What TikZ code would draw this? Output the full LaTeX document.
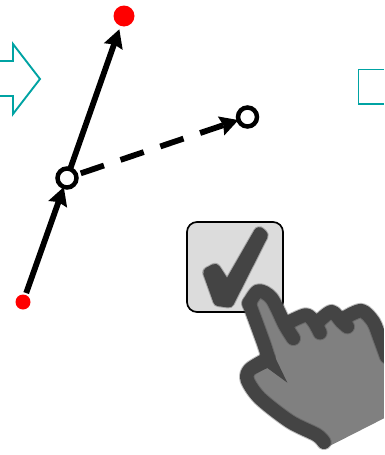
\documentclass[tikz,border=0pt]{standalone}
\usetikzlibrary{arrows.meta}
\definecolor{tealline}{HTML}{00A3A3}
\definecolor{handdark}{HTML}{444444}
\definecolor{handgray}{HTML}{808080}
\definecolor{boxgray}{HTML}{DCDCDC}
\tikzset{
  redpt/.style={circle,fill=red,inner sep=0pt,outer sep=0pt},
  openpt/.style={circle,draw=black,line width=4.5pt,fill=white,inner sep=0pt,outer sep=0pt,minimum size=19pt},
  conn/.style={line width=5.8pt,-{Stealth[length=18pt,width=19pt,inset=2pt]}},
  dashconn/.style={conn,dash pattern=on 24.5pt off 17.5pt},
  tealshape/.style={draw=tealline,line width=1.9pt,line join=miter},
  checkbox/.style={draw=black,line width=1.7pt,fill=boxgray,rounded corners=10pt,inner sep=0pt,outer sep=0pt,minimum width=96pt,minimum height=90pt},
  handline/.style={handdark,line join=round,line cap=round},
}
\begin{document}
\begin{tikzpicture}[x=1pt,y=-1pt]
\useasboundingbox (0,0) rectangle (384,455);
% teal shapes
\draw[tealshape] (-3,61) -- (13,61) -- (13,44) -- (40,79) -- (13,114) -- (13,96) -- (-3,96);
\draw[tealshape] (387,69.5) -- (358.5,69.5) -- (358.5,104) -- (387,104);
% points
\node[redpt,minimum size=21pt] (top) at (124,16) {};
\node[redpt,minimum size=15pt] (bot) at (23,302) {};
\node[openpt] (mid) at (67,178) {};
\node[openpt] (end) at (247.5,117) {};
% connectors
\draw[conn,shorten <=2pt,shorten >=0pt] (bot) -- (mid);
\draw[conn,shorten >=3.5pt] (mid) -- (top);
\draw[dashconn,shorten <=5pt,shorten >=0pt] (mid) -- (end);
% check box
\node[checkbox] (box) at (235,267) {};
% tick and hand, in zoomed coordinates
\begin{scope}[shift={(170,210)},x=0.3333pt,y=-0.3333pt]
  \foreach \w/\o in {13/0.35,11/1}{
    \draw[draw=handdark,fill=handdark,line width=\w pt,line join=round,opacity=\o]
      (116,188) -- (146,272) -- (176,276) -- (277,76) -- (268,68) -- (172,235) -- (135,178) -- cycle;
  }
  % hand fill
  \fill[handgray]
    plot[smooth,tension=0.5] coordinates {(235,275) (265,240) (305,265) (345,345)}
    -- (405,320) -- (480,305) -- (575,300) -- (615,340) -- (642,420) -- (642,625) -- (465,715)
    -- (440,690) -- (360,640) -- (270,570) -- (228,510) -- (235,480) -- (290,445) -- cycle;
  \foreach \w/\o in {15.5/0.35,13.5/1}{
    \draw[handline,line width=\w pt,opacity=\o]
      plot[smooth,tension=0.5] coordinates {(237,280) (265,243) (305,265) (345,345) (370,385)};
    \draw[handline,line width=\w pt,opacity=\o]
      plot[smooth,tension=0.5] coordinates {(360,335) (408,315) (432,335) (450,368)};
    \draw[handline,line width=\w pt,opacity=\o]
      plot[smooth,tension=0.5] coordinates {(445,335) (485,305) (515,335) (532,350)};
    \draw[handline,line width=\w pt,opacity=\o]
      plot[smooth,tension=0.5] coordinates {(530,320) (575,302) (610,335) (630,385) (650,440)};
    \draw[handline,line width=\w pt,opacity=\o]
      plot[smooth,tension=0.5] coordinates {(295,445) (240,478) (232,510) (270,565) (360,635) (440,675) (462,697)};
    \draw[handline,line width=\w pt,opacity=\o]
      plot[smooth,tension=0.5] coordinates {(237,280) (281,400) (295,445)};
  }
  \fill[handdark] (295,400) -- (352,518) -- (292,474) -- (255,492) -- (250,470) -- cycle;
\end{scope}
\fill[white] (384,0) rectangle (392,455);
\end{tikzpicture}
\end{document}
